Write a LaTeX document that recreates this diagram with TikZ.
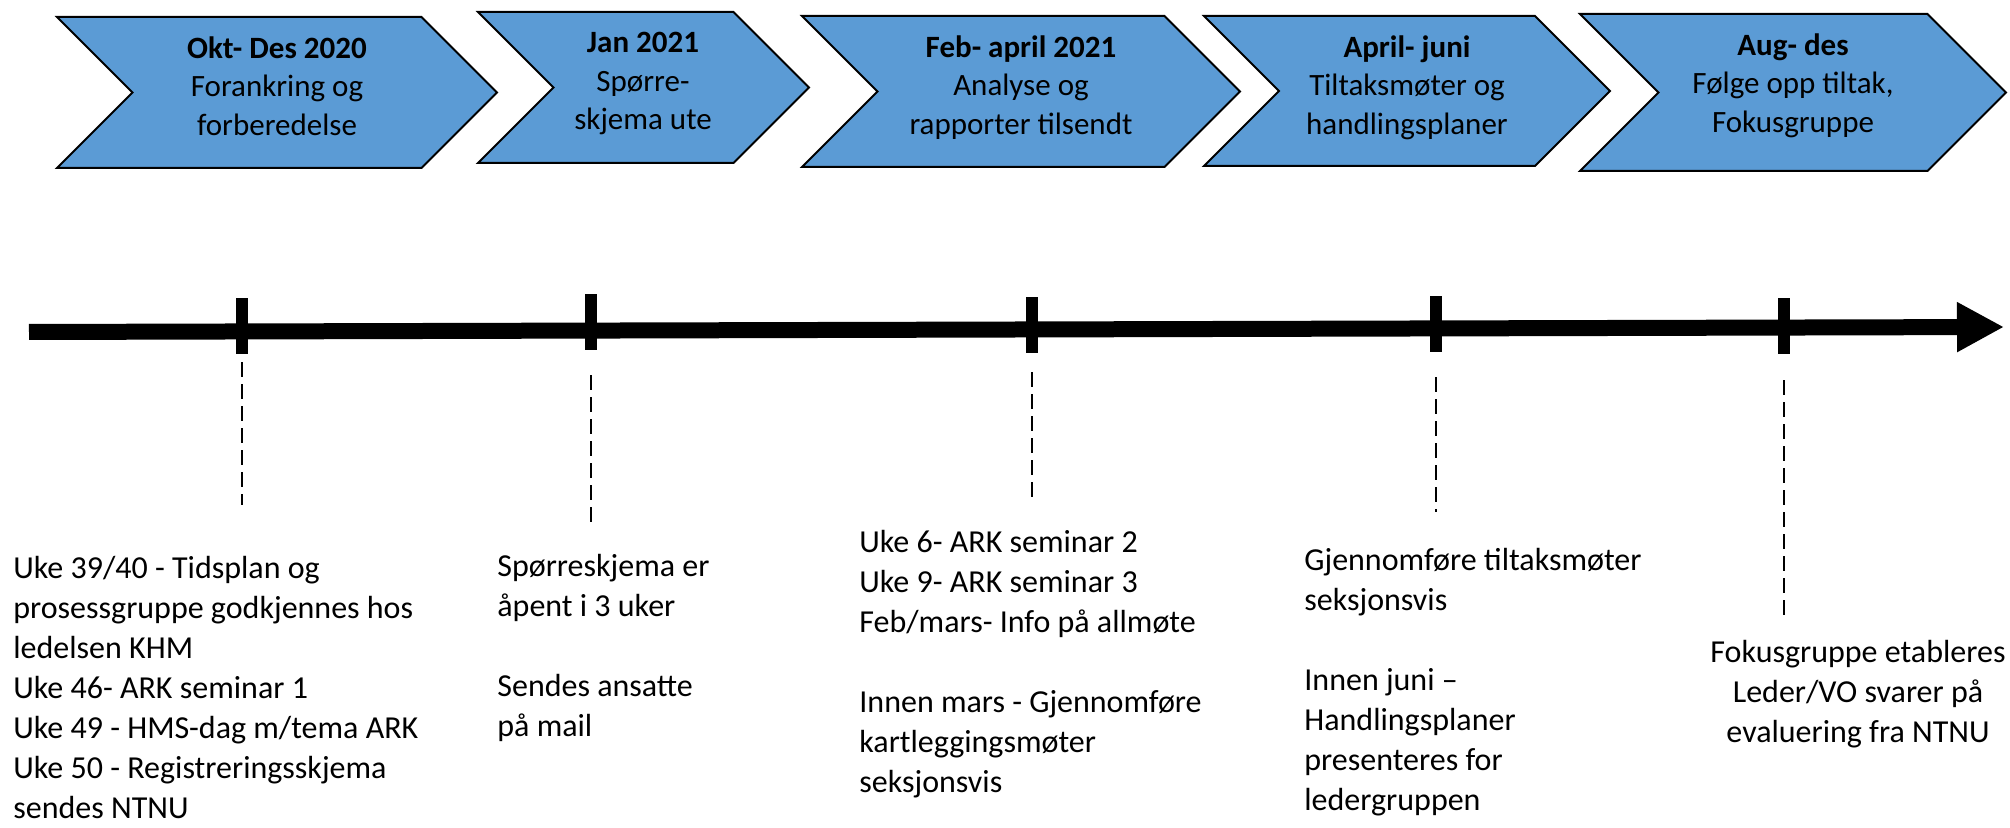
\documentclass[tikz,border=0pt]{standalone}
\usepackage{fontspec}
\setmainfont{Carlito}
\usetikzlibrary{arrows.meta,positioning}
\definecolor{phaseblue}{HTML}{5B9BD5}
\tikzset{
  phase/.style    ={draw=black,line width=1pt,fill=phaseblue,line join=miter},
  phasetext/.style={align=center,inner sep=0pt,anchor=north,
                    font=\fontsize{15.5}{19.25}\selectfont},
  note/.style     ={align=left,inner sep=0pt,anchor=north west,
                    font=\fontsize{16}{20}\selectfont},
  tick/.style     ={fill=black,inner sep=0pt,minimum width=6pt,minimum height=28pt},
  timeline/.style ={line width=8pt,-{Triangle[length=23.5pt,width=23.5pt]}},
  guide/.style    ={line width=1pt,dash pattern=on 7.5pt off 3.5pt}
}
\begin{document}
\begin{tikzpicture}[x=0.5pt,y=-0.5pt]
    \useasboundingbox (0,0) rectangle (2010,828);
    % --- phases along the top ---
    \foreach \xa/\xb/\ya/\yb in {57/497/17/168,478/809/12/163,802/1240/16/167,
                                 1204/1610/16/166,1580/2006/14/171}
      \draw[phase] (\xa,\ya) -- ({\xb-(\yb-\ya)/2},\ya) -- (\xb,{(\ya+\yb)/2})
        -- ({\xb-(\yb-\ya)/2},\yb) -- (\xa,\yb)
        -- ({\xa+(\yb-\ya)/2},{(\ya+\yb)/2}) -- cycle;
    \node[phasetext] (ph1) at (277,36)
      {\textbf{Okt- Des 2020}\\Forankring og\\forberedelse};
    \node[phasetext] (ph2) at (643,32)
      {\textbf{Jan 2021}\\Spørre-\\skjema ute};
    \node[phasetext] (ph3) at (1021,35)
      {\textbf{Feb- april 2021}\\Analyse og\\rapporter tilsendt};
    \node[phasetext] (ph4) at (1407,35)
      {\textbf{April- juni}\\Tiltaksmøter og\\handlingsplaner};
    \node[phasetext] (ph5) at (1793,33)
      {\textbf{Aug- des}\\Følge opp tiltak,\\Fokusgruppe};
    % --- time axis ---
    \coordinate (start) at (29,332);
    \coordinate (end) at (2004,327);
    \draw[timeline] (start) -- (end);
    \node[tick] (k1) at (242,326) {};
    \node[tick] (k2) at (591,322) {};
    \node[tick] (k3) at (1032,325) {};
    \node[tick] (k4) at (1436,324) {};
    \node[tick] (k5) at (1784,326) {};
    % --- dashed guides down to the notes ---
    \coordinate (e1) at (242,505);
    \coordinate (e2) at (591,529);
    \coordinate (e3) at (1032,500);
    \coordinate (e4) at (1436,512);
    \coordinate (e5) at (1784,615);
    \draw[guide,shorten <=4pt]    (k1.south) -- (e1);
    \draw[guide,shorten <=12.5pt] (k2.south) -- (e2);
    \draw[guide,shorten <=9.5pt]  (k3.south) -- (e3);
    \draw[guide,shorten <=12.5pt] (k4.south) -- (e4);
    \draw[guide,shorten <=13pt]   (k5.south) -- (e5);
    % --- notes under the axis ---
    \node[note] (n1) at (13,556)
      {Uke 39/40 - Tidsplan og\\prosessgruppe godkjennes hos\\ledelsen KHM\\%
       Uke 46- ARK seminar 1\\Uke 49 - HMS-dag m/tema ARK\\%
       Uke 50 - Registreringsskjema\\sendes NTNU};
    \node[note] (n2) at (497,554)
      {Spørreskjema er\\åpent i 3 uker\\[20pt]Sendes ansatte\\på mail};
    \node[note] (n3) at (859,530)
      {Uke 6- ARK seminar 2\\Uke 9- ARK seminar 3\\Feb/mars- Info på allmøte\\[20pt]%
       Innen mars - Gjennomføre\\kartleggingsmøter\\seksjonsvis};
    \node[note] (n4) at (1304,548)
      {Gjennomføre tiltaksmøter\\seksjonsvis\\[20pt]Innen juni --\\%
       Handlingsplaner\\presenteres for\\ledergruppen};
    \node[note,align=center,anchor=north] (n5) at (1858,640)
      {Fokusgruppe etableres\\Leder/VO svarer på\\evaluering fra NTNU};
\end{tikzpicture}
\end{document}
